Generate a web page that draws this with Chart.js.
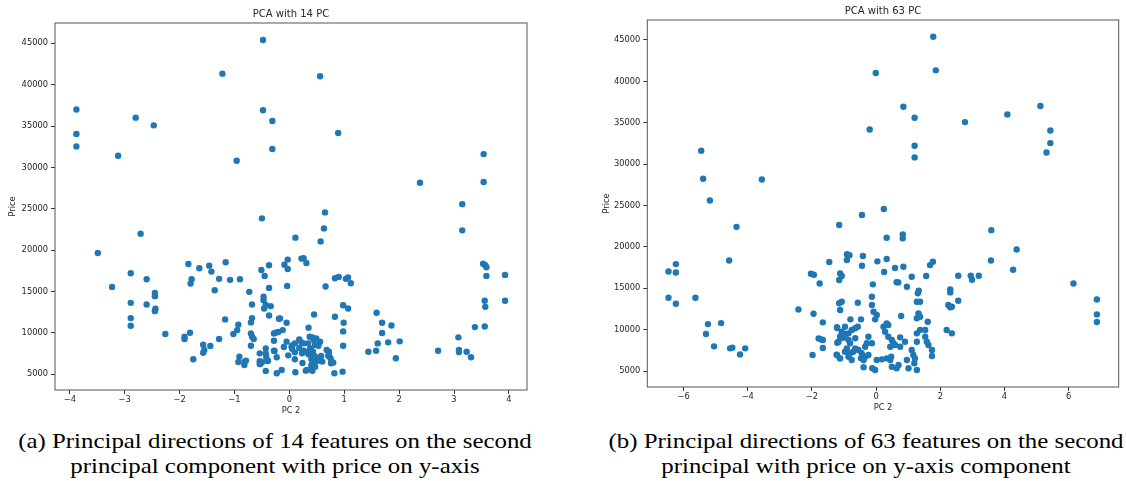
<!DOCTYPE html>
<html>
<head>
<meta charset="utf-8">
<script src="https://cdn.jsdelivr.net/npm/chart.js@4.4.1/dist/chart.umd.min.js"></script>
<style>
  html, body { margin: 0; padding: 0; background: #fff; }
  body { width: 1126px; height: 481px; position: relative; overflow: hidden; }
  canvas { position: absolute; top: 0; }
  #left { left: 0; }
  #right { left: 580px; }
  .cap {
    position: absolute; top: 428px; width: 600px; text-align: center;
    font-family: "Liberation Serif", serif; font-size: 22px; line-height: 25px; color: #000;
    transform: scaleX(1.13); transform-origin: 50% 50%;
  }
  #capA { left: -25px; }
  #capB { left: 566px; }
</style>
</head>
<body>
<canvas id="left" width="545" height="418"></canvas>
<canvas id="right" width="546" height="418"></canvas>
<div class="cap" id="capA">(a) Principal directions of 14 features on the second<br>principal component with price on y-axis</div>
<div class="cap" id="capB">(b) Principal directions of 63 features on the second<br>principal with price on y-axis component</div>
<script>
// PCA with 14 PC: second component vs price
const pc2_14 = [
  -3.88, -3.88, -3.88, -3.12, -2.80, -2.47, -1.22, -0.96, -0.48, -0.48, -0.31, -0.31, 0.56, 0.89, 2.38, 3.54, 3.54, 3.15, 3.15,
  -0.50, -3.49, -3.23, -2.71, -2.89, -2.89, -2.89, -2.89, -2.60, -2.60, -2.45, -2.45, -2.44, -2.45, -2.26, -1.91, -1.91, -1.81,
  -1.84, -1.78, -1.80, -1.64, -1.75, -1.57, -1.57, -1.55, -1.44, -1.46, -1.42, -1.36, -1.28, -1.28, -1.16, -1.17, -1.08, -1.02,
  -0.95, -0.93, -0.90, -0.91, -0.93, -0.82, -0.79, -0.82, -0.73, -0.68, -0.68, -0.70, -0.70, -0.68, -0.65, -0.70, -0.54, -0.54,
  -0.54, -0.50, -0.51, -0.47, -0.47, -0.43, -0.46, -0.45, -0.37, -0.37, -0.37, -0.34, -0.43, -0.43, -0.42, -0.40, -0.43, -0.28,
  -0.28, -0.28, -0.23, -0.23, -0.19,
  0.65, 0.63, 0.57, 0.11, -0.09, -0.03, -0.03, -0.04, 0.22, 0.26, 0.31, -0.17, -0.05, 0.45, 0.35, -0.25, -0.20, -0.12, -0.05,
  -0.10, 0.05, 0.05, 0.10, 0.18, 0.22, 0.18, 0.26, 0.37, 0.42, 0.49, 0.56, 0.53, 0.39, 0.35, 0.43, 0.45, 0.40, 0.43, 0.40, 0.40,
  0.30, 0.24, 0.10, -0.02, -0.27, -0.14, 0.11, 0.58, 0.60, 0.72, 0.71, 0.75, 0.76, 0.80, 0.82, 0.97, 0.83, 0.99, 0.98, 0.98,
  0.98, 1.07, 0.66, 0.83, 0.90, 1.03, 1.07, 1.12, 1.59, 1.69, 1.69, 1.86, 1.61, 1.80, 2.01, 1.44, 1.58, 1.94, 2.71, 3.08, 3.09,
  3.09, 3.23, 3.31, 3.38, 3.56, 3.57, 3.56, 3.53, 3.57, 3.59, 3.59, 3.93, 3.93,
  0.04, 0.10, 0.26, 0.23, 0.44, 0.34, 0.38, 0.47, 0.29, 0.47, 0.46, 0.47, 0.42, 0.32, 0.53, 0.68, 0.72, 0.77, -0.39, -0.53, -0.52
];
const price_14 = [
  37000, 34030, 32540, 31410, 36010, 35080, 41330, 30810, 45400, 36900, 35600, 32220, 41010, 34150, 28150, 31610, 28230, 25560, 22390,
  23840, 19660, 15560, 21990, 17210, 13630, 11790, 10860, 16490, 13430, 14840, 14440, 12910, 12630, 9860, 9540, 9260, 10020,
  18330, 16490, 15960, 17810, 6810, 8570, 7610, 7930, 8410, 18130, 17410, 15160, 16530, 9260, 18530, 11630, 16410, 9860,
  10340, 10980, 16490, 7130, 6490, 6490, 6650, 6120, 14960, 13430, 11790, 11270, 9940, 9540, 9260, 8450, 7530, 6570,
  6250, 6450, 17610, 14360, 13960, 13390, 12950, 16890, 18170, 15440, 12110, 13230, 8130, 7530, 7050, 6610, 5400, 9940,
  9060, 7850, 7050, 5120, 11710,
  24560, 22630, 21060, 21510, 18250, 18860, 17730, 15680, 18980, 19020, 18450, 11750, 11220, 12230, 10620, 10020, 10100, 10340, 8940,
  8290, 8490, 8090, 7650, 9220, 8860, 8170, 7850, 9540, 9460, 9340, 8940, 8450, 7930, 7410, 7730, 7250, 6850, 6530, 6120, 5600,
  5440, 6370, 6810, 7290, 7810, 5520, 5240, 7210, 6530, 7730, 7210, 6930, 6330, 6410, 5120, 5320, 11950, 11220, 10180, 8450,
  13350, 12950, 15600, 16610, 16770, 16530, 16690, 16000, 12430, 11220, 9980, 10900, 8730, 8860, 8980, 7730, 7850, 6930, 7850, 9460, 7930,
  7690, 7730, 7050, 10700, 10780, 13150, 13880, 18370, 18170, 17930, 16890, 17010, 13880,
  8330, 8740, 8740, 7540, 9140, 8740, 8140, 8540, 7730, 7130, 6520, 5920, 5430, 5520, 6640, 7940, 7450, 6520, 6640, 6240, 6520
];

// PCA with 63 PC: second component vs price
const pc2_63 = [
  -5.45, -5.39, -5.18, -3.56, 1.78, -0.01, 1.86, 0.85, 1.20, -0.20, 1.20, 1.20, 2.77, 4.09, 5.12, 5.43, 5.43, 5.31, 0.24,
  -4.35, -6.47, -6.24, -6.24, -6.47, -6.24, -5.63, -4.58, -5.24, -4.83, -5.30, -5.05, -4.55, -4.48, -4.24, -4.08,
  -2.42, -1.98, -1.95, -2.03, -1.94, -1.76, -1.46, -1.15, -1.66, -1.79, -1.71, -1.66, -1.66, -1.21, -1.21, -1.23, -1.13,
  -1.15, -1.07, -1.12, -1.15, -1.07, -1.12, -1.10, -1.03, -0.94, -0.91, -0.83, -0.91, -0.44, -0.41, -0.44, -0.57, -0.13,
  -0.13, -0.08, 0.02, -0.03, -0.80, -0.47,
  -1.22, -0.97, -1.07, -0.86, -0.76, -0.65, -0.57, -1.17, -1.12, -0.86, -0.81, -0.65, -0.65, -0.71, -0.81, -0.97, -0.91,
  -1.22, -1.12, -0.86, -0.76, -0.55, -0.45, -0.34, -0.24, -0.29, -0.13, -0.47, -0.34, -0.39, -0.24, -0.39, -0.12, -0.03,
  0.02, 0.18, 0.33, 0.44, 0.49, 0.64, 0.70, 0.47, 0.23, 0.33, 0.38, 0.28, 0.38, 0.49, 0.54, 0.44, 0.59, 0.75, 0.90, 0.75,
  0.78, 0.96, 1.01, 1.11, 1.16, 1.21, 1.19, 1.27, 1.27, 1.37, 1.53, 1.27, 1.53, 1.58, 1.63, 1.74, 1.74, 1.30, 1.27, 1.37,
  1.32, 1.27, 1.37, 1.61, 2.25, 2.36, 2.20, 2.36,
  0.33, 0.83, 0.83, 0.04, 0.33, 0.25, 0.59, 0.85, 1.11, 0.69, -0.10, 1.56, 1.68, 1.77, 0.96, 1.33, 0.64,
  2.56, 2.95, 2.99, 3.20, 2.31, 2.31, 2.56, 2.31, 3.59, 3.58, 4.38, 4.27, 6.15, 6.88, 6.88, 6.88
];
const price_63 = [
  31610, 28230, 25600, 28150, 45400, 41010, 41330, 36940, 35600, 34190, 32220, 30810, 35080, 36010, 37020, 34070, 32540, 31410, 24570,
  22420, 17030, 17920, 16910, 13850, 13130, 13850, 18360, 10670, 10790, 9470, 7980, 7740, 7820, 7010, 7740,
  12440, 6930, 11920, 16750, 16630, 15580, 18170, 22640, 10880, 8940, 8820, 8740, 7780, 10190, 8420, 6970, 6530,
  15990, 16480, 16800, 13180, 13370, 12370, 9230, 9020, 9470, 19100, 18980, 18410, 23850, 18890, 17720, 13250, 13970,
  12970, 12160, 11760, 11240, 11240, 11240,
  10280, 10350, 9750, 9550, 9950, 10160, 10350, 8540, 9140, 8740, 8350, 8950, 7740, 7330, 7140, 7330, 7740,
  6930, 6530, 6730, 6330, 7540, 7140, 7940, 9140, 8350, 8350, 6530, 6730, 6330, 6930, 5450, 5330, 5120,
  6330, 6410, 6530, 6330, 5520, 5330, 5720, 6730, 10350, 10760, 10560, 9750, 9140, 8740, 8350, 7940, 8140, 9070, 8540, 7940,
  11640, 6330, 5330, 7540, 6930, 6530, 5930, 5120, 9550, 9950, 9950, 8540, 9140, 8540, 8140, 7540, 6810, 14390, 13370, 13370,
  11970, 11370, 11560, 10960, 12970, 12770, 9950, 9550,
  21100, 21510, 21030, 18250, 18530, 16960, 17440, 17600, 16390, 15710, 15470, 16480, 17800, 18200, 15180, 14700, 15740,
  16510, 16510, 16030, 16510, 14860, 14500, 13490, 12690, 22020, 18360, 19690, 17230, 15580, 13650, 11840, 10920
];

// tick positions
const priceTicks = [5000, 10000, 15000, 20000, 25000, 30000, 35000, 40000, 45000];
const pcTicks14 = [-4, -3, -2, -1, 0, 1, 2, 3, 4];
const pcTicks63 = [-6, -4, -2, 0, 2, 4, 6];

const dotColor = '#1f77b4';
const inkColor = '#262626';

// frame around the plot area plus the title centred over it
const framePlugin = {
  id: 'frame',
  afterDraw(chart, args, opts) {
    const { ctx, chartArea: a } = chart;
    ctx.save();
    ctx.strokeStyle = '#555';
    ctx.lineWidth = 1;
    ctx.strokeRect(a.left, a.top, a.right - a.left, a.bottom - a.top);
    ctx.fillStyle = inkColor;
    ctx.font = '10px "DejaVu Sans"';
    ctx.textAlign = 'center';
    ctx.textBaseline = 'middle';
    ctx.fillText(opts.text, (a.left + a.right) / 2, a.top - 9);
    ctx.restore();
  }
};

function fmt(v) {
  return v < 0 ? '\u2212' + Math.abs(v) : String(v);
}

function fixedTicks(values) {
  return scale => { scale.ticks = values.map(v => ({ value: v })); };
}

function scatter(id, xs, ys, cfg) {
  const pts = xs.map((x, i) => ({ x: x, y: ys[i] }));
  const tickFont = { family: 'DejaVu Sans', size: 8.3 };
  return new Chart(document.getElementById(id), {
    type: 'scatter',
    data: {
      datasets: [{
        data: pts,
        backgroundColor: dotColor,
        borderWidth: 0,
        pointRadius: 3.2,
        pointHoverRadius: 3.2
      }]
    },
    options: {
      responsive: false,
      animation: false,
      events: [],
      layout: { padding: { top: cfg.top, right: cfg.right, left: 0, bottom: 0 } },
      plugins: {
        legend: { display: false },
        tooltip: { enabled: false },
        frame: { text: cfg.title }
      },
      scales: {
        x: {
          type: 'linear',
          min: cfg.xMin, max: cfg.xMax,
          afterBuildTicks: fixedTicks(cfg.xTicks),
          afterFit: s => { s.height = cfg.xHeight; },
          border: { display: false },
          grid: { drawOnChartArea: false, drawTicks: true, tickLength: 4, tickColor: '#333' },
          ticks: { padding: 1, color: inkColor, font: tickFont, callback: fmt, maxRotation: 0, autoSkip: false },
          title: { display: true, text: 'PC 2', color: inkColor, font: tickFont, padding: { top: 0, bottom: cfg.xTitlePad } }
        },
        y: {
          type: 'linear',
          min: cfg.yMin, max: cfg.yMax,
          afterBuildTicks: fixedTicks(priceTicks),
          afterFit: s => { s.width = cfg.yWidth; },
          border: { display: false },
          grid: { drawOnChartArea: false, drawTicks: true, tickLength: 4, tickColor: '#333' },
          ticks: { padding: 3, color: inkColor, font: tickFont, callback: fmt, autoSkip: false },
          title: { display: true, text: 'Price', color: inkColor, font: tickFont, padding: { top: cfg.yTitlePad, bottom: 0 } }
        }
      }
    },
    plugins: [framePlugin]
  });
}

scatter('left', pc2_14, price_14, {
  title: 'PCA with 14 PC',
  top: 23, right: 18, yWidth: 55, xHeight: 28,
  xMin: -4.27, xMax: 4.33, xTicks: pcTicks14,
  yMin: 3100, yMax: 47450,
  xTitlePad: 2, yTitlePad: 8.3
});

scatter('right', pc2_63, price_63, {
  title: 'PCA with 63 PC',
  top: 20, right: 7.3, yWidth: 67.3, xHeight: 31,
  xMin: -7.13, xMax: 7.56, xTicks: pcTicks63,
  yMin: 3068, yMax: 47415,
  xTitlePad: 4.7, yTitlePad: 21.7
});
</script>
</body>
</html>
